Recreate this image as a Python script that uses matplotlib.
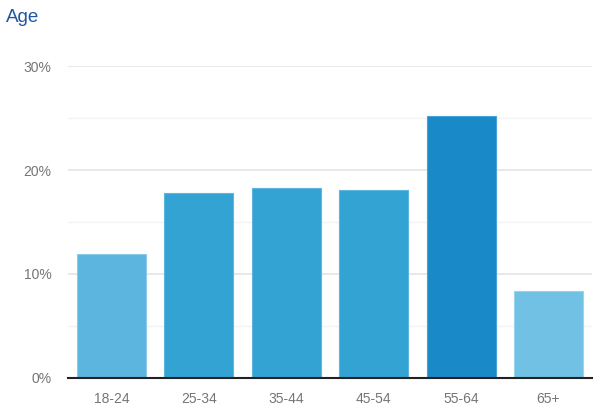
import numpy as np
import matplotlib.pyplot as plt

# data
age_groups = ['18-24', '25-34', '35-44', '45-54', '55-64', '65+']
share = [11.9, 17.8, 18.3, 18.05, 25.2, 8.4]
bar_colors = ['#5bb5df', '#33a3d4', '#33a3d4', '#33a3d4', '#1a89c7', '#70c1e3']
edge_colors = ['#8ccbea', '#5cb6e0', '#5cb6e0', '#5cb6e0', '#4aa3d6', '#9ad3ee']
y_ticks = [0, 10, 20, 30]
y_minor = [5, 15, 25]

plt.rcParams['font.family'] = ['Liberation Sans', 'DejaVu Sans']

fig = plt.figure(figsize=(6, 4.18), dpi=100)
ax = fig.add_axes([0.1133, 0.0957, 0.8734, 0.7464])

x = np.arange(len(age_groups))
ax.bar(x, share, width=0.79, color=bar_colors, edgecolor=edge_colors,
       linewidth=0.8, zorder=3)

ax.set_xlim(-0.5, len(age_groups) - 0.5)
ax.set_ylim(0, 30)
ax.set_yticks(y_ticks)
ax.set_yticklabels([f'{v}%' for v in y_ticks])
ax.set_yticks(y_minor, minor=True)
ax.set_xticks(x)
ax.set_xticklabels(age_groups)

ax.grid(axis='y', which='major', color='#e4e4e4', linewidth=1.2, zorder=0)
ax.grid(axis='y', which='minor', color='#f3f3f3', linewidth=1.0, zorder=0)

for s in ['top', 'right', 'left']:
    ax.spines[s].set_visible(False)
ax.spines['bottom'].set_color('#222222')
ax.spines['bottom'].set_linewidth(1.5)
ax.spines['bottom'].set_zorder(4)

ax.tick_params(axis='both', which='both', length=0, labelsize=10,
               labelcolor='#757575')
ax.tick_params(axis='y', pad=12)
ax.tick_params(axis='x', pad=10)

fig.text(0.01, 0.957, 'Age', fontsize=13.5, color='#1f56a5', ha='left', va='center')

fig.savefig('out.png', dpi=100)
